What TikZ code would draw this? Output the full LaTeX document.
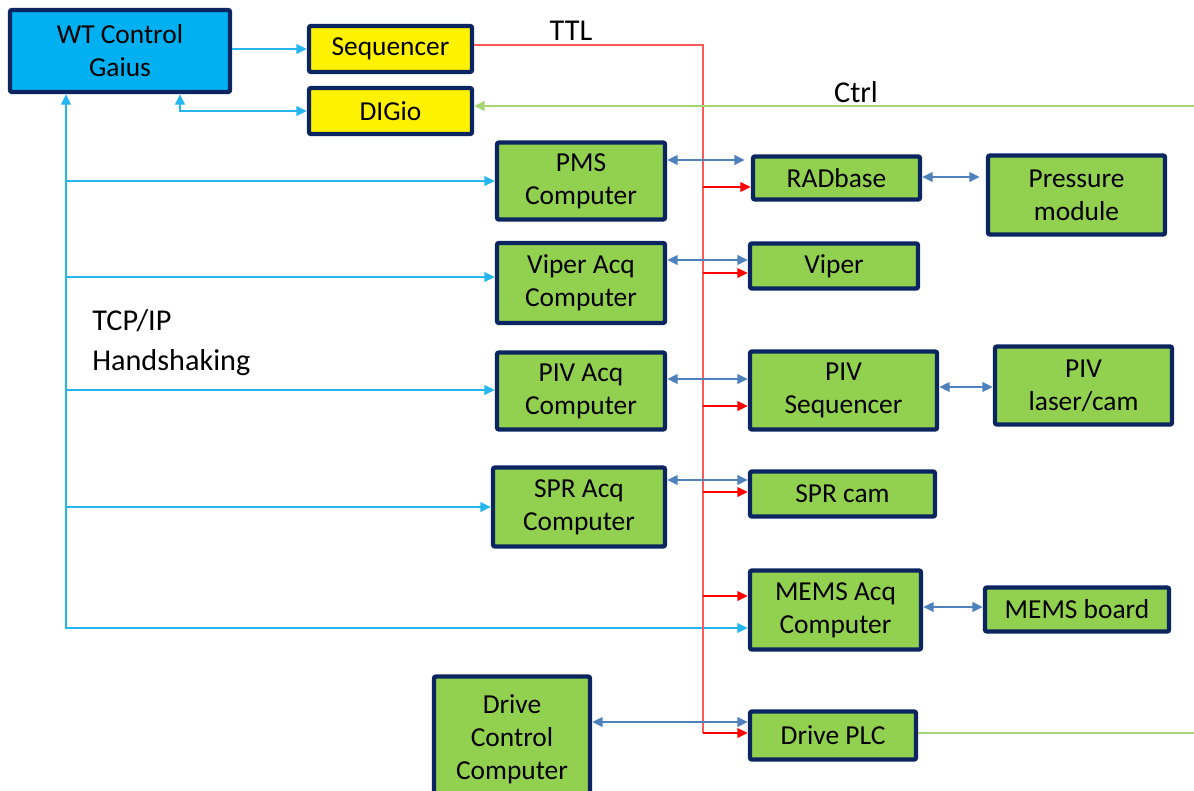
\documentclass[tikz,border=0pt]{standalone}
\usepackage{fontspec}
\setmainfont{Carlito}
\usepackage{xcolor}
\usepackage{tikz}
\usetikzlibrary{arrows.meta,positioning,calc}
\definecolor{navy}{HTML}{0B2560}
\definecolor{leaf}{HTML}{92D050}
\definecolor{sky}{HTML}{00B0F0}
\definecolor{skyline}{HTML}{25B6F0}
\definecolor{steel}{HTML}{4F81BD}
\definecolor{ctrlgreen}{HTML}{A5D673}
\definecolor{palered}{HTML}{FF5A5A}

\begin{document}
\begin{tikzpicture}[
    x=0.025cm, y=-0.025cm,
    box/.style={rectangle, draw=navy, line width=0.11cm, rounded corners=1.5pt, inner sep=0pt, align=center, font=\fontsize{19.5}{23.5}\selectfont},
    greenbox/.style={box, fill=leaf},
    yellowbox/.style={box, fill=yellow, minimum width=4.075cm, minimum height=1.15cm},
    gaiusbox/.style={box, fill=sky},
    tip/.style={-{Triangle[length=2.6mm,width=2.4mm]}},
    tcp/.style={skyline, line width=1.4pt},
    ttl/.style={red, line width=1.2pt, tip},
    ttlline/.style={palered, line width=1pt},
    link/.style={steel, line width=1.3pt, {Triangle[length=2.6mm,width=2.4mm]}-{Triangle[length=2.6mm,width=2.4mm]}},
    ctrl/.style={ctrlgreen, line width=2pt},
    label/.style={font=\fontsize{21.5}{28.5}\selectfont, inner sep=0pt}
]
    \useasboundingbox (0,0) rectangle (1194,790);

    % boxes
    \node[gaiusbox, minimum width=5.5cm, minimum height=2.05cm] (gaius) at (120,51) {WT Control\\Gaius};
    \node[yellowbox] (seq) at (390.5,49) {Sequencer};
    \node[yellowbox] (digio) at (390.5,111) {DIGio};

    \node[greenbox, minimum width=4.2cm, minimum height=1.925cm] (pms) at (581,181) {PMS\\Computer};
    \node[greenbox, minimum width=4.175cm, minimum height=1.075cm] (radbase) at (836.5,178) {RADbase};
    \node[greenbox, minimum width=4.425cm, minimum height=1.975cm] (pressure) at (1076.5,195) {Pressure\\module};

    \node[greenbox, minimum width=4.2cm, minimum height=2cm] (viperacq) at (581,283) {Viper Acq\\Computer};
    \node[greenbox, minimum width=4.2cm, minimum height=1.125cm] (viper) at (834,266) {Viper};

    \node[greenbox, minimum width=4.2cm, minimum height=1.925cm] (pivacq) at (581,391) {PIV Acq\\Computer};
    \node[greenbox, minimum width=4.675cm, minimum height=1.95cm] (pivseq) at (843.5,390.5) {PIV\\Sequencer};
    \node[greenbox, minimum width=4.425cm, minimum height=1.95cm] (pivlaser) at (1083.5,385.5) {PIV\\laser/cam};

    \node[greenbox, minimum width=4.3cm, minimum height=1.975cm] (spracq) at (579,507) {SPR Acq\\Computer};
    \node[greenbox, minimum width=4.625cm, minimum height=1.125cm] (sprcam) at (842.5,494) {SPR cam};

    \node[greenbox, minimum width=4.275cm, minimum height=1.975cm] (memsacq) at (835.5,610) {MEMS Acq\\Computer};
    \node[greenbox, minimum width=4.6cm, minimum height=1.1cm] (memsboard) at (1077,609.5) {MEMS board};

    \node[greenbox, minimum width=4.15cm, minimum height=1.2cm] (driveplc) at (833,735.5) {Drive PLC};
    \node[greenbox, minimum width=3.9cm, minimum height=3.125cm] (drivectl) at (512,739) {Drive\\Control\\Computer};

    % labels
    \node[label] (ttllabel) at (571,31) {TTL};
    \node[label] (ctrllabel) at (856,92) {Ctrl};
    \node[label, anchor=north west, align=left] (tcplabel) at (92,309) {TCP/IP\\Handshaking};

    % TCP/IP handshaking
    \draw[tcp, tip] (gaius.east |- seq.west) -- (seq.west);
    \draw[tcp, {Triangle[length=2.6mm,width=2.4mm]}-{Triangle[length=2.6mm,width=2.4mm]}] (gaius.south -| 180,0) |- (digio.west);
    \draw[tcp, {Triangle[length=2.6mm,width=2.4mm]}-{Triangle[length=2.6mm,width=2.4mm]}] (gaius.south -| 66,0) -- (66,628) -- (memsacq.west |- 0,628);
    \draw[tcp, tip] (66,181) -- (pms.west |- 0,181);
    \draw[tcp, tip] (66,277) -- (viperacq.west |- 0,277);
    \draw[tcp, tip] (66,390) -- (pivacq.west |- 0,390);
    \draw[tcp, tip] (66,507) -- (spracq.west |- 0,507);

    % TTL
    \coordinate (ttlbot) at (703,733);
    \draw[ttlline] (seq.east |- 0,45) -| (ttlbot);
    \draw[ttl] (703,187) -- (radbase.west |- 0,187);
    \draw[ttl] (703,273) -- (viper.west |- 0,273);
    \draw[ttl] (703,406) -- (pivseq.west |- 0,406);
    \draw[ttl] (703,492) -- (sprcam.west |- 0,492);
    \draw[ttl] (703,596) -- (memsacq.west |- 0,596);
    \draw[ttl] (ttlbot) -- (driveplc.west |- ttlbot);

    % data links
    \draw[link, shorten >=1.5mm] (pms.east |- 0,160) -- (radbase.west |- 0,160);
    \draw[link] (viperacq.east |- 0,260) -- (viper.west |- 0,260);
    \draw[link] (pivacq.east |- 0,379) -- (pivseq.west |- 0,379);
    \draw[link] (spracq.east |- 0,480) -- (sprcam.west |- 0,480);
    \draw[link, shorten >=1.5mm] (radbase.east |- 0,177) -- (pressure.west |- 0,177);
    \draw[link] (pivseq.east |- 0,387) -- (pivlaser.west |- 0,387);
    \draw[link] (memsacq.east |- 0,607) -- (memsboard.west |- 0,607);
    \draw[link] (drivectl.east |- 0,722) -- (driveplc.west |- 0,722);

    % Ctrl
    \coordinate (ctrlin) at (1194,106);
    \coordinate (plcout) at (1194,733);
    \draw[ctrl, tip] (ctrlin) -- (digio.east |- ctrlin);
    \draw[ctrl] (driveplc.east |- plcout) -- (plcout);
\end{tikzpicture}
\end{document}
